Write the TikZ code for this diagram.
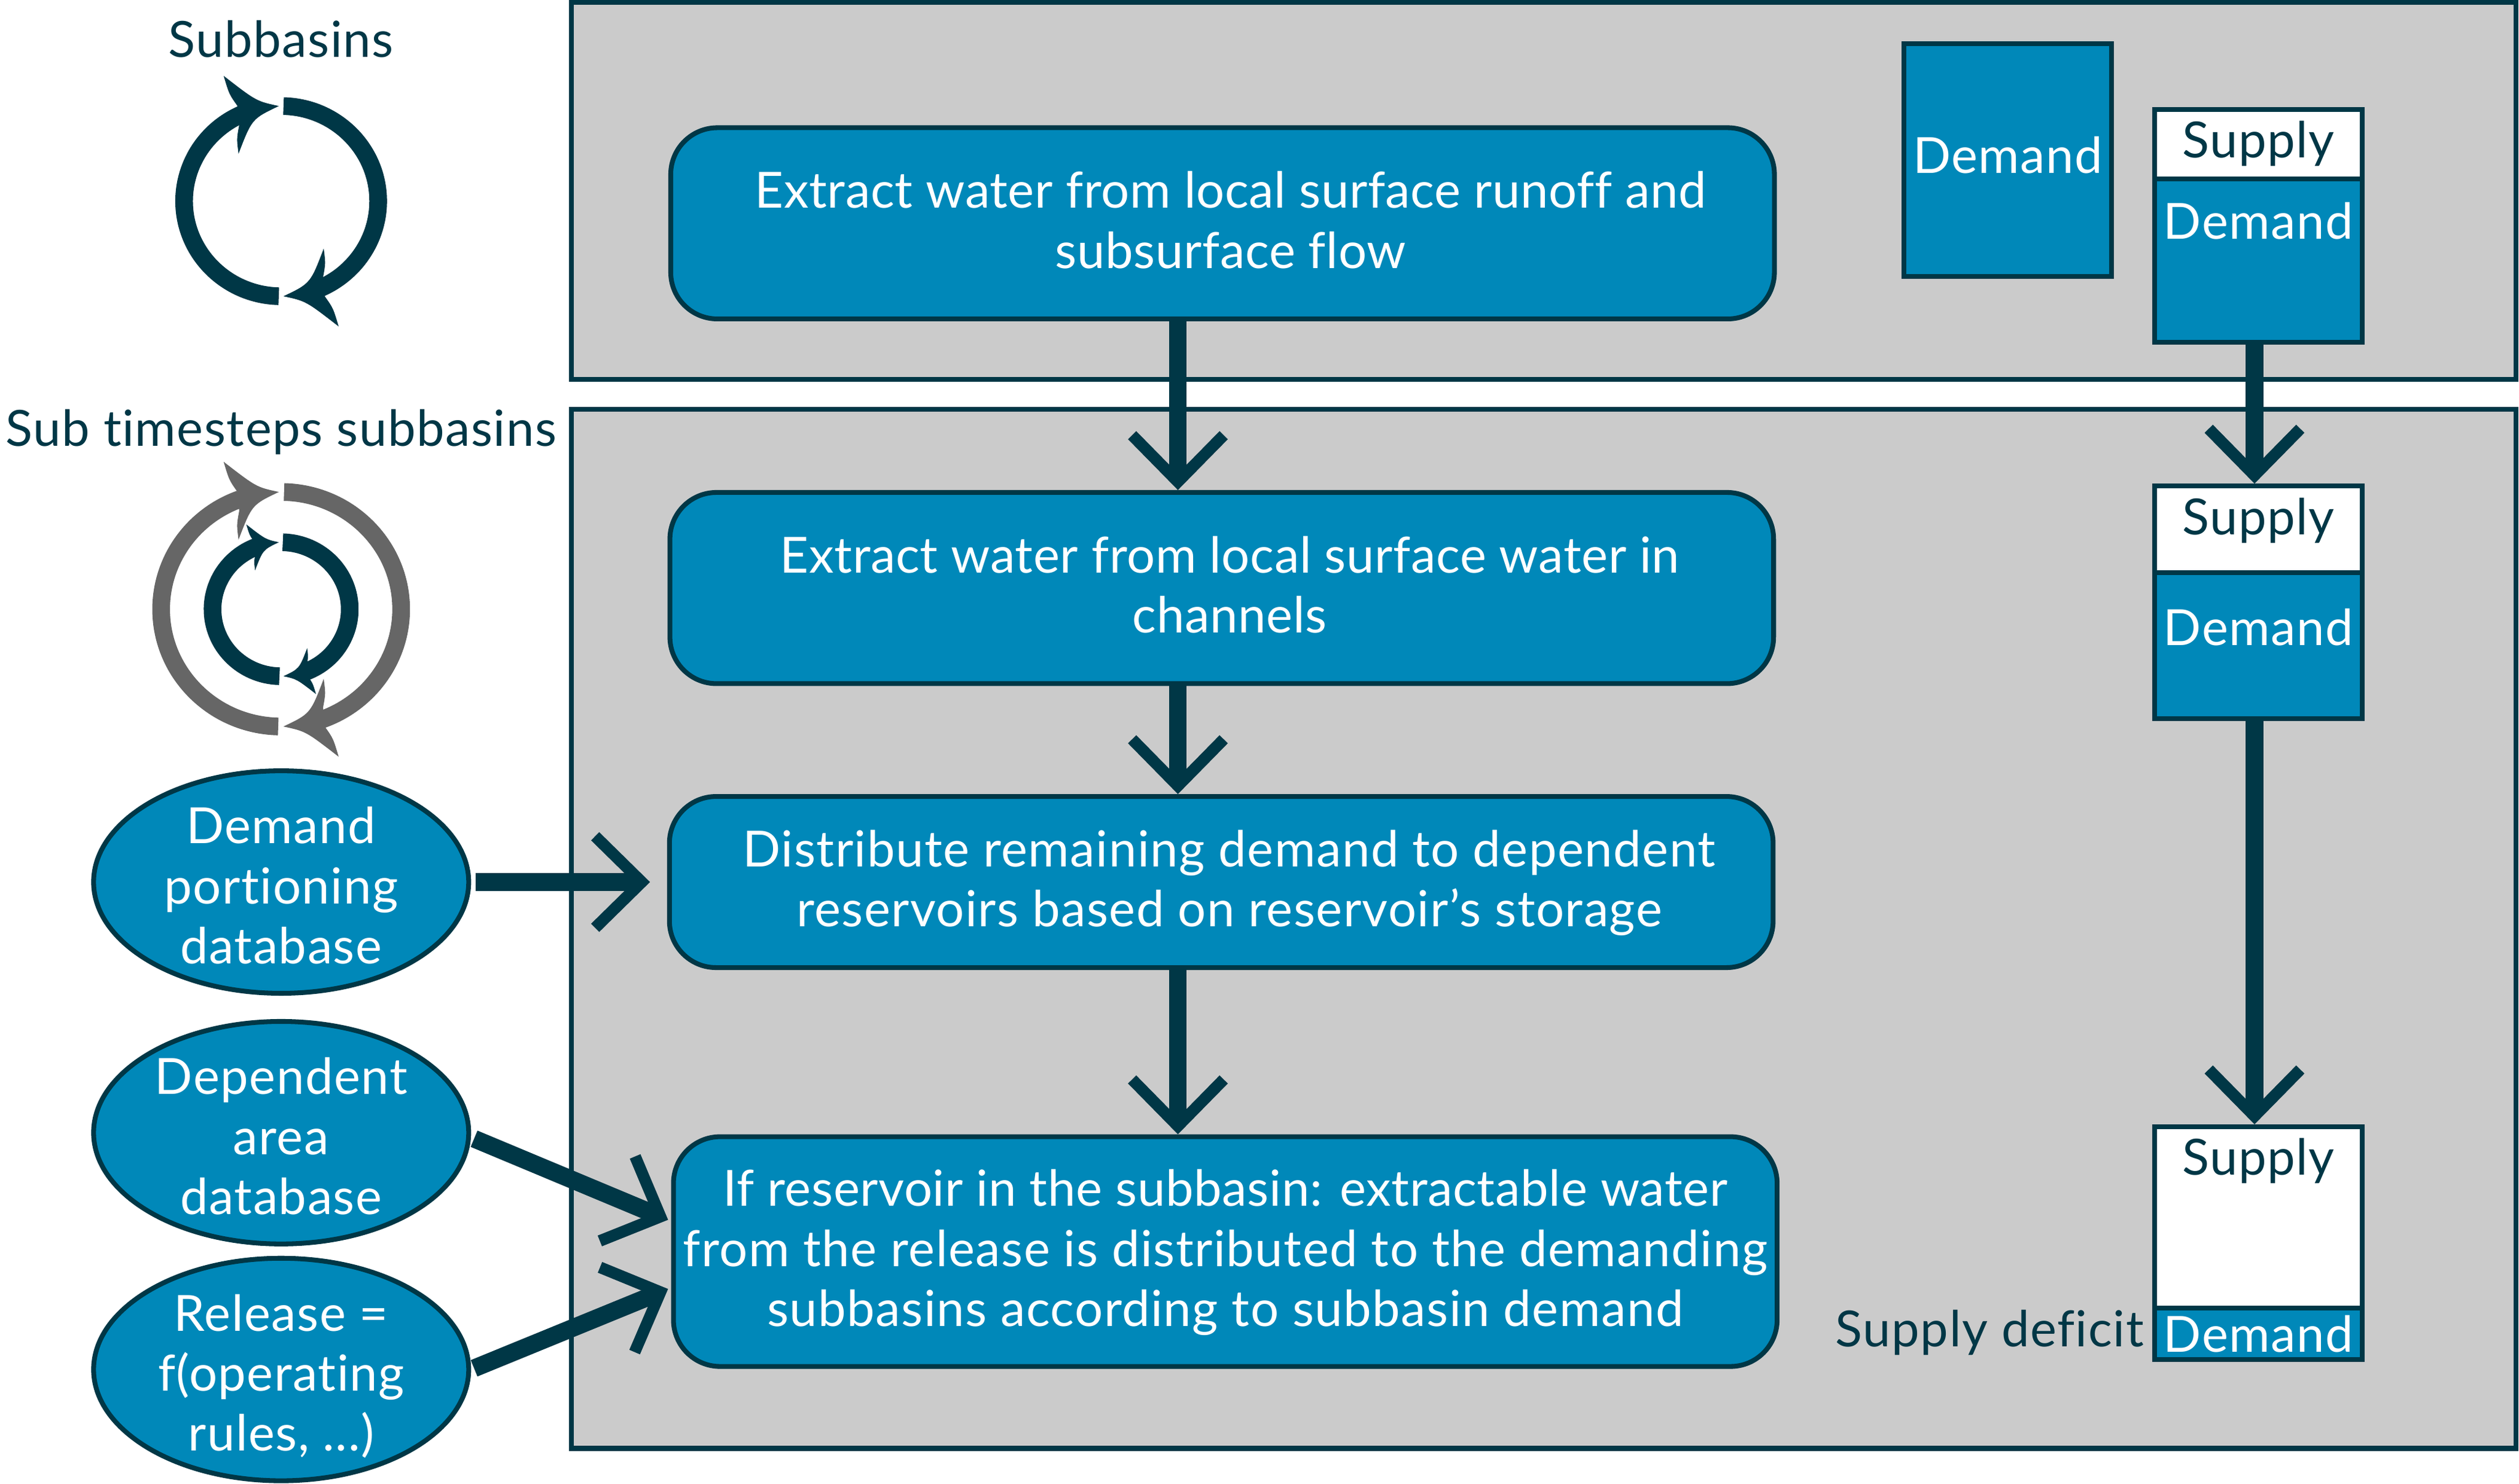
\documentclass[tikz,border=0pt]{standalone}
\usepackage{fontspec}
\setmainfont{Lato}[Ligatures=NoCommon,LetterSpace=1.8]
\usetikzlibrary{arrows.meta,shapes.geometric}
\definecolor{darkline}{HTML}{003746}
\definecolor{flowblue}{HTML}{0088B9}
\definecolor{panelgray}{HTML}{CBCBCB}
\definecolor{loopgray}{HTML}{666666}
\newcommand{\ind}{\hspace*{10pt}}
\newcommand{\tighter}{\addfontfeature{LetterSpace=0.8}}
\newcommand{\cycleicon}[5]{%
  \begin{scope}[shift={(#1)},x=1pt,y=1pt,color=#4]
    \foreach \a in {0,180} {
      \begin{scope}[rotate=\a]
        \draw[line width=11pt] (268.6:#2 and #3) arc[start angle=268.6,end angle=110,x radius=#2,y radius=#3];
        \fill[shift={(-1.4,#3)},scale=#5] (0,0) .. controls (-14,3) .. (-34.4,18.8) .. controls (-31,7.4) .. (-25.9,.2) -- (-24.7,-11.8) .. controls (-26.3,-20.5) .. (-25.1,-29.7) .. controls (-16.8,-8) .. (0,0) -- cycle;
      \end{scope}
    }
  \end{scope}
}
\tikzset{
  txt/.style={font=\fontsize{31}{37.4}\selectfont},
  tighttxt/.style={font=\fontsize{31}{37.4}\selectfont\tighter},
  panel/.style={draw=darkline,fill=panelgray,line width=3pt},
  flowbox/.style={txt,draw=darkline,fill=flowblue,text=white,line width=3pt,rounded corners=29pt,align=center,inner sep=0pt,minimum width=687pt},
  dbnode/.style={txt,ellipse,draw=darkline,fill=flowblue,text=white,line width=3pt,align=center,inner sep=-25pt,minimum width=233.5pt,minimum height=138.5pt},
  stock/.style={draw=darkline,line width=3pt,minimum width=129.5pt,inner sep=0pt},
  lbl/.style={txt,anchor=base,inner sep=0pt,text=darkline},
  wlbl/.style={lbl,text=white},
  flow/.style={draw=darkline,line width=11pt,-{Straight Barb[length=29pt,width=57pt,line width=7.2pt]}}
}
\begin{document}
\begin{tikzpicture}[x=1pt,y=-1pt]
  \useasboundingbox (0,0) rectangle (1568,923.3);
  \draw[panel] (355.8,1.5) rectangle (1566,236.2);
  \draw[panel] (355.8,254.8) rectangle (1566,901.5);

  \node[lbl] (subbasins) at (175,35.7) {Subbasins};
  \cycleicon{175,125.2}{60.4}{59.2}{darkline}{1}
  \node[lbl] (subtimesteps) at (175,277.7) {Sub timesteps subbasins};
  \cycleicon{175,379.2}{74.7}{73}{loopgray}{1}
  \cycleicon{175,379.2}{42.7}{41.7}{darkline}{0.59}

  \node[flowbox,tighttxt,minimum height=119pt,text depth=4.3pt] (extractrunoff) at (761,139) {\ind Extract water from local surface runoff and\\\ind subsurface flow};
  \node[flowbox,tighttxt,minimum height=119pt,text depth=4.3pt] (extractchannel) at (760.5,366) {\ind Extract water from local surface water in\\\ind channels};
  \node[flowbox,minimum height=106.5pt,text depth=4.5pt] (distribute) at (760.2,549) {\ind Distribute remaining demand to dependent\\\ind reservoirs based on reservoir’s storage};
  \node[flowbox,minimum height=143pt,text depth=4.5pt] (release) at (762.7,779) {{\tighter If reservoir in the subbasin: extractable water}\\from the release is distributed to the demanding\\subbasins according to subbasin demand};

  \node[dbnode,text height=102pt] (portiondb) at (175,549) {Demand\\portioning\\database};
  \node[dbnode,text height=102pt] (areadb) at (175,705) {Dependent\\area\\database};
  \node[dbnode,text height=106pt] (releasedb) at (175,852.4) {Release =\\f(operating\\rules, ...)};

  \node[stock,fill=flowblue,minimum height=144.8pt] (demandonly) at (1249.75,99.5) {};
  \node[stock,fill=white,minimum height=44.1pt] (supplyA) at (1405.75,90.15) {};
  \node[stock,fill=flowblue,minimum height=101.5pt] (demandA) at (1405.75,162.15) {};
  \node[stock,fill=white,minimum height=54.7pt] (supplyB) at (1405.75,329.85) {};
  \node[stock,fill=flowblue,minimum height=91pt] (demandB) at (1405.75,401.9) {};
  \node[stock,fill=white,minimum height=113.6pt] (supplyC) at (1405.75,758.1) {};
  \node[stock,fill=flowblue,minimum height=32.1pt] (demandC) at (1405.75,830.15) {};

  \node[wlbl] (demandonlytxt) at (1249.75,108) {Demand};
  \node[lbl] (supplyAtxt) at (1405.75,98.2) {Supply};
  \node[wlbl] (demandAtxt) at (1405.75,148.9) {Demand};
  \node[lbl] (supplyBtxt) at (1405.75,332.6) {Supply};
  \node[wlbl] (demandBtxt) at (1405.75,401.5) {Demand};
  \node[lbl] (supplyCtxt) at (1405.75,731.3) {Supply};
  \node[wlbl] (demandCtxt) at (1405.75,841.5) {Demand};
  \node[lbl] (deficit) at (1238.5,838) {Supply deficit};

  \draw[flow] ([xshift=-27.8pt]extractrunoff.south) -- ([xshift=-27.3pt]extractchannel.north);
  \draw[flow] ([xshift=-27.3pt]extractchannel.south) -- ([xshift=-27pt]distribute.north);
  \draw[flow] ([xshift=-27pt]distribute.south) -- ([xshift=-29.5pt]release.north);
  \draw[flow] ([xshift=-2.4pt]demandA.south) -- ([xshift=-2.4pt]supplyB.north);
  \draw[flow,shorten <=-3pt] ([xshift=-2.4pt]demandB.south) -- ([xshift=-2.4pt]supplyC.north);
  \draw[flow,shorten <=3pt,shorten >=10.6pt] (portiondb.east) -- (distribute.west);
  \draw[flow,shorten <=2pt,shorten >=2pt] ([yshift=-3pt]areadb.east) -- ([yshift=19pt]release.west);
  \draw[flow,shorten <=2pt,shorten >=2pt] (releasedb.east) -- ([yshift=-22.5pt]release.west);
\end{tikzpicture}
\end{document}
